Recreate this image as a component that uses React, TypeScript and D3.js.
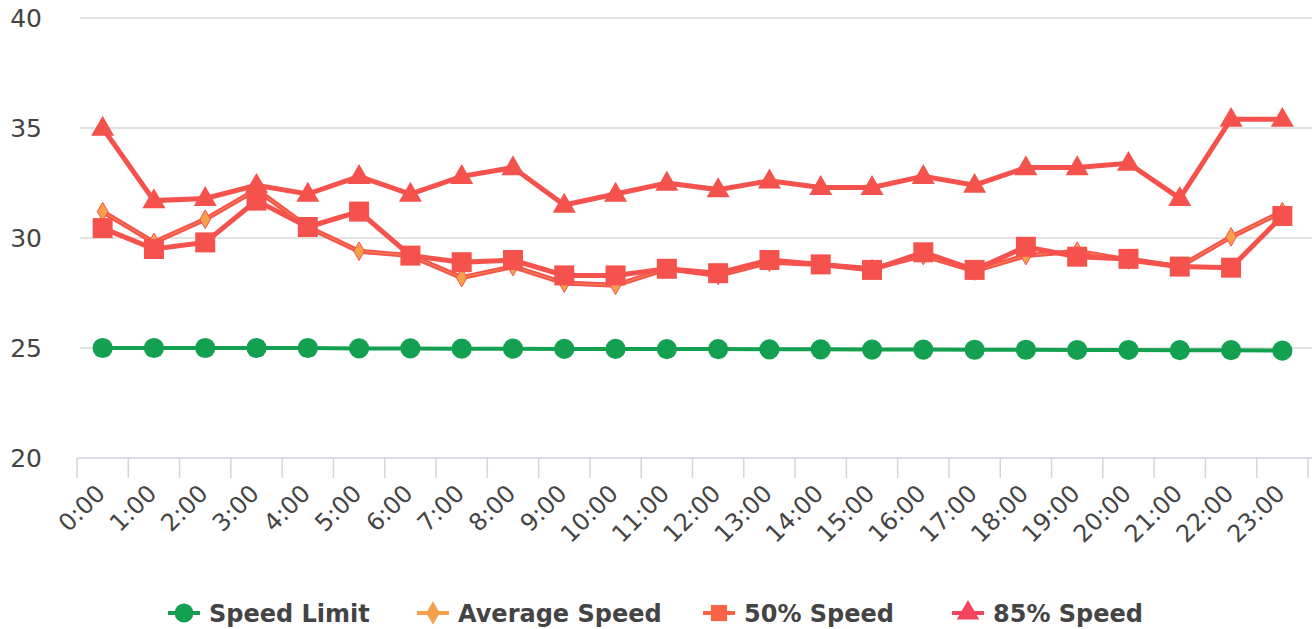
import React from 'react';
import * as d3 from 'd3';

// hour labels along the x axis
const hours = d3.range(24).map(h => `${h}:00`);

// values (mph)
const speedLimit = [25.0, 25.0, 25.0, 25.0, 25.0, 24.98, 24.98, 24.97, 24.97, 24.96, 24.96, 24.95, 24.95, 24.94, 24.94, 24.93, 24.93, 24.92, 24.92, 24.91, 24.91, 24.9, 24.9, 24.88];
const averageSpeed = [31.2, 29.8, 30.85, 32.2, 30.5, 29.4, 29.2, 28.2, 28.7, 27.95, 27.85, 28.6, 28.3, 28.9, 28.8, 28.6, 29.2, 28.5, 29.2, 29.4, 29.0, 28.7, 30.05, 31.2];
const speed50 = [30.45, 29.5, 29.8, 31.7, 30.5, 31.2, 29.2, 28.9, 29.0, 28.3, 28.3, 28.6, 28.4, 29.0, 28.8, 28.55, 29.35, 28.55, 29.6, 29.15, 29.05, 28.7, 28.65, 31.0];
const speed85 = [35.0, 31.7, 31.8, 32.4, 32.0, 32.8, 32.0, 32.8, 33.2, 31.5, 32.0, 32.5, 32.2, 32.6, 32.3, 32.3, 32.8, 32.4, 33.2, 33.2, 33.4, 31.8, 35.4, 35.4];
const yTicks = [20, 25, 30, 35, 40];

const GREEN = '#13a051';
const RED = '#f5524d';
const ORANGE = '#f7a04b';

export default function App() {
  const width = 1315;
  const height = 629;
  const left = 77;
  const right = 1308;
  const top = 18;
  const bottom = 458;

  const x = d3.scaleBand<string>().domain(hours).range([left, right]);
  const cx = (i: number) => (x(hours[i]) ?? 0) + x.bandwidth() / 2;
  const y = d3.scaleLinear().domain([20, 40]).range([bottom, top]);

  const line = d3.line<number>().x((d, i) => cx(i)).y(d => y(d));

  const sym = (type: d3.SymbolType, size: number) => d3.symbol().type(type).size(size)() || '';
  const circlePath = sym(d3.symbolCircle, 320);
  const squarePath = sym(d3.symbolSquare, 400);
  const trianglePath = sym(d3.symbolTriangle, 230);
  const diamondPath = sym(d3.symbolDiamond, 100);

  const legend = [
    { name: 'Speed Limit', color: GREEN, path: sym(d3.symbolCircle, 280), x: 168 },
    { name: 'Average Speed', color: ORANGE, path: sym(d3.symbolDiamond, 160), x: 417 },
    { name: '50% Speed', color: '#fb6345', path: sym(d3.symbolSquare, 260), x: 703 },
    { name: '85% Speed', color: '#f4455e', path: sym(d3.symbolTriangle, 220), x: 952 },
  ];

  return (
    <svg width={width} height={height} style={{ position: 'absolute', left: 0, top: 0, fontFamily: 'DejaVu Sans, sans-serif' }}>
      <rect width={width} height={height} fill="#fff" />
      {/* grid lines */}
      {yTicks.filter(t => t > 20).map(t => (
        <line key={t} x1={80} x2={1312} y1={y(t)} y2={y(t)} stroke="#e3e3e3" strokeWidth={2} />
      ))}
      {yTicks.map(t => (
        <text key={t} x={42} y={y(t)} dy="0.36em" textAnchor="end" fontSize={25} fill="#444">{t}</text>
      ))}
      {/* x axis */}
      <line x1={left} x2={1312} y1={bottom} y2={bottom} stroke="#d8dde6" strokeWidth={2} />
      {d3.range(25).map(i => {
        const xx = left + i * x.bandwidth();
        return <line key={i} x1={xx} x2={xx} y1={bottom} y2={bottom + 20} stroke="#d2d6dc" strokeWidth={1.5} />;
      })}
      {hours.map((h, i) => (
        <text key={h} transform={`translate(${cx(i) + 4},${bottom + 37}) rotate(-45)`} textAnchor="end" fontSize={24} fill="#444">{h}</text>
      ))}

      {/* speed limit */}
      <path d={line(speedLimit) || ''} fill="none" stroke={GREEN} strokeWidth={4} />
      {speedLimit.map((d, i) => (
        <path key={i} d={circlePath} transform={`translate(${cx(i)},${y(d)})`} fill={GREEN} />
      ))}

      {/* average speed */}
      <path d={line(averageSpeed) || ''} fill="none" stroke={RED} strokeWidth={5} />
      <path d={line(averageSpeed) || ''} fill="none" stroke={ORANGE} strokeWidth={1.2} opacity={0.6} />
      {averageSpeed.map((d, i) => (
        <path key={i} d={diamondPath} transform={`translate(${cx(i)},${y(d)})`} fill={ORANGE} stroke={RED} strokeWidth={1} />
      ))}

      {/* 50% speed */}
      <path d={line(speed50) || ''} fill="none" stroke={RED} strokeWidth={5} />
      {speed50.map((d, i) => (
        <path key={i} d={squarePath} transform={`translate(${cx(i)},${y(d)})`} fill={RED} />
      ))}

      {/* 85% speed */}
      <path d={line(speed85) || ''} fill="none" stroke={RED} strokeWidth={5} />
      {speed85.map((d, i) => (
        <path key={i} d={trianglePath} transform={`translate(${cx(i)},${y(d) + 1})`} fill={RED} />
      ))}

      {/* legend */}
      {legend.map(l => (
        <g key={l.name} transform={`translate(${l.x},613)`}>
          <line x1={0} x2={32} y1={0} y2={0} stroke={l.color} strokeWidth={4} />
          <path d={l.path} transform="translate(16,0)" fill={l.color} />
          <text x={41} dy="0.36em" fontSize={24} fontWeight="bold" fill="#444">{l.name}</text>
        </g>
      ))}
    </svg>
  );
}
